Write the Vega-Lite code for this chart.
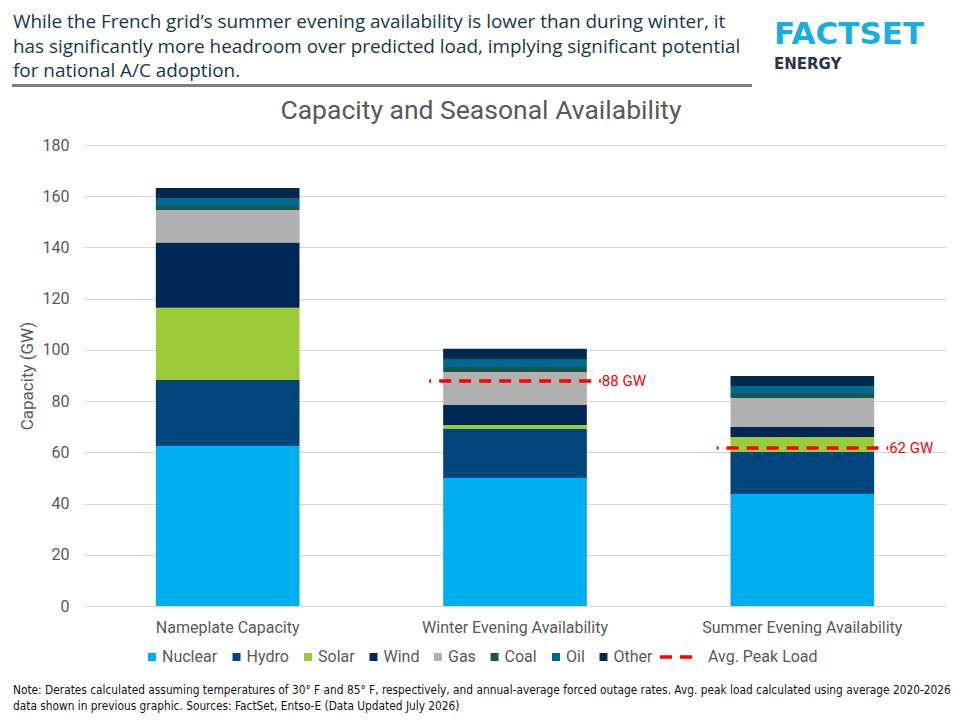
{
  "$schema": "https://vega.github.io/schema/vega-lite/v6.json",
  "background": "white",
  "padding": {"left": 12, "top": 12, "right": 0, "bottom": 0},
  "config": {"font": "Roboto", "view": {"stroke": null}},
  "datasets": {
    "capacity": [
      {"cat": "Nameplate Capacity", "source": "Nuclear", "gw": 62.5},
      {"cat": "Nameplate Capacity", "source": "Hydro", "gw": 25.7},
      {"cat": "Nameplate Capacity", "source": "Solar", "gw": 28.3},
      {"cat": "Nameplate Capacity", "source": "Wind", "gw": 25.4},
      {"cat": "Nameplate Capacity", "source": "Gas", "gw": 12.7},
      {"cat": "Nameplate Capacity", "source": "Coal", "gw": 1.6},
      {"cat": "Nameplate Capacity", "source": "Oil", "gw": 3.1},
      {"cat": "Nameplate Capacity", "source": "Other", "gw": 3.9},
      {"cat": "Winter Evening Availability", "source": "Nuclear", "gw": 50.0},
      {"cat": "Winter Evening Availability", "source": "Hydro", "gw": 19.1},
      {"cat": "Winter Evening Availability", "source": "Solar", "gw": 1.6},
      {"cat": "Winter Evening Availability", "source": "Wind", "gw": 7.8},
      {"cat": "Winter Evening Availability", "source": "Gas", "gw": 12.9},
      {"cat": "Winter Evening Availability", "source": "Coal", "gw": 1.9},
      {"cat": "Winter Evening Availability", "source": "Oil", "gw": 3.1},
      {"cat": "Winter Evening Availability", "source": "Other", "gw": 4.0},
      {"cat": "Summer Evening Availability", "source": "Nuclear", "gw": 43.7},
      {"cat": "Summer Evening Availability", "source": "Hydro", "gw": 16.4},
      {"cat": "Summer Evening Availability", "source": "Solar", "gw": 5.9},
      {"cat": "Summer Evening Availability", "source": "Wind", "gw": 3.9},
      {"cat": "Summer Evening Availability", "source": "Gas", "gw": 11.3},
      {"cat": "Summer Evening Availability", "source": "Coal", "gw": 2.0},
      {"cat": "Summer Evening Availability", "source": "Oil", "gw": 2.7},
      {"cat": "Summer Evening Availability", "source": "Other", "gw": 3.9}
    ],
    "load": [
      {"cat": "Winter Evening Availability", "gw": 87.9, "label": "88 GW"},
      {"cat": "Summer Evening Availability", "gw": 61.7, "label": "62 GW"}
    ]
  },
  "bounds": "flush",
  "spacing": 60,
  "vconcat": [
    {
      "bounds": "flush",
      "spacing": 23,
      "hconcat": [
        {
          "data": {"values": []},
          "mark": "point",
          "width": 738,
          "height": 1,
          "view": {"stroke": "#7f7f7f", "strokeWidth": 2, "fill": "#7f7f7f"},
          "title": {
            "text": [
              "While the French grid’s summer evening availability is lower than during winter, it",
              "has significantly more headroom over predicted load, implying significant potential",
              "for national A/C adoption."
            ],
            "anchor": "start",
            "frame": "group",
            "font": "Open Sans",
            "fontSize": 18.9,
            "fontWeight": "normal",
            "color": "#15394a",
            "lineHeight": 24.5,
            "offset": 4
          }
        },
        {
          "data": {"values": []},
          "mark": "point",
          "width": 150,
          "height": 1,
          "title": {
            "text": "FACTSET",
            "subtitle": "ENERGY",
            "anchor": "start",
            "frame": "group",
            "font": "DejaVu Sans",
            "fontWeight": "bold",
            "fontSize": 31,
            "color": "#1aade4",
            "subtitleFont": "DejaVu Sans",
            "subtitleFontWeight": "bold",
            "subtitleFontSize": 15,
            "subtitleColor": "#253746",
            "subtitlePadding": 6,
            "offset": 12
          }
        }
      ]
    },
    {
      "bounds": "flush",
      "spacing": 0,
      "hconcat": [
        {
          "data": {"values": []},
          "mark": "point",
          "width": 71,
          "height": 461,
          "title": {
            "text": [
              "Note: Derates calculated assuming temperatures of 30° F and 85° F, respectively, and annual-average forced outage rates. Avg. peak load calculated using average 2020-2026",
              "data shown in previous graphic. Sources: FactSet, Entso-E (Data Updated July 2026)"
            ],
            "orient": "bottom",
            "anchor": "start",
            "frame": "group",
            "limit": 2000,
            "font": "DejaVu Sans Condensed, Liberation Sans, sans-serif",
            "fontSize": 11.8,
            "fontWeight": "normal",
            "color": "#111111",
            "lineHeight": 16,
            "offset": 79
          }
        },
        {
          "width": 862,
          "height": 461,
          "title": {
            "text": "Capacity and Seasonal Availability",
            "anchor": "middle",
            "frame": "group",
            "dx": -34,
            "fontSize": 26.5,
            "font": "Roboto",
            "fontWeight": "normal",
            "color": "#595959",
            "offset": 13
          },
          "layer": [
            {
              "data": {"name": "capacity"},
              "transform": [{"window": [{"op": "row_number", "as": "row"}]}],
              "mark": {"type": "bar"},
              "encoding": {
                "x": {
                  "field": "cat",
                  "type": "nominal",
                  "sort": ["Nameplate Capacity", "Winter Evening Availability", "Summer Evening Availability"],
                  "scale": {"paddingInner": 0.5, "paddingOuter": 0.25},
                  "axis": {
                    "title": null,
                    "labelAngle": 0,
                    "labelFontSize": 16,
                    "labelColor": "#595959",
                    "labelLimit": 400,
                    "ticks": false,
                    "domain": false,
                    "labelPadding": 13
                  }
                },
                "y": {
                  "field": "gw",
                  "type": "quantitative",
                  "stack": "zero",
                  "scale": {"domain": [0, 180], "nice": false},
                  "axis": {
                    "title": "Capacity (GW)",
                    "tickCount": 9,
                    "grid": true,
                    "gridColor": "#d9d9d9",
                    "domain": false,
                    "ticks": false,
                    "labelPadding": 15,
                    "labelFontSize": 16,
                    "labelColor": "#595959",
                    "titleFontSize": 17,
                    "titleFontWeight": "normal",
                    "titleColor": "#595959",
                    "titlePadding": 6
                  }
                },
                "order": {"field": "row", "type": "quantitative"},
                "color": {
                  "field": "source",
                  "type": "nominal",
                  "sort": ["Nuclear", "Hydro", "Solar", "Wind", "Gas", "Coal", "Oil", "Other"],
                  "scale": {
                    "domain": ["Nuclear", "Hydro", "Solar", "Wind", "Gas", "Coal", "Oil", "Other"],
                    "range": ["#00aeef", "#00457b", "#9bcb38", "#002855", "#b0b0b0", "#17574f", "#006990", "#002a4a"]
                  },
                  "legend": {
                    "title": null,
                    "orient": "none",
                    "legendX": 131,
                    "legendY": 564,
                    "direction": "horizontal",
                    "columns": 8,
                    "symbolType": "square",
                    "symbolSize": 64,
                    "symbolStrokeWidth": 0,
                    "labelFontSize": 16,
                    "labelColor": "#595959",
                    "labelOffset": 2,
                    "columnPadding": 10.5,
                    "padding": 0
                  }
                }
              }
            },
            {
              "data": {"name": "load"},
              "mark": {
                "type": "rule",
                "color": "#ff0000",
                "strokeWidth": 3.5,
                "xOffset": -14,
                "x2Offset": 14,
                "strokeDashOffset": 10
              },
              "encoding": {
                "x": {
                  "field": "cat",
                  "type": "nominal",
                  "sort": ["Nameplate Capacity", "Winter Evening Availability", "Summer Evening Availability"],
                  "bandPosition": 0
                },
                "x2": {"field": "cat", "bandPosition": 1},
                "y": {"field": "gw", "type": "quantitative"},
                "strokeDash": {
                  "datum": "Avg. Peak Load",
                  "type": "nominal",
                  "scale": {"range": [[12, 8]]},
                  "legend": {
                    "title": null,
                    "orient": "none",
                    "legendX": 645,
                    "legendY": 553,
                    "symbolType": "stroke",
                    "symbolSize": 1156,
                    "symbolStrokeColor": "#ff0000",
                    "symbolStrokeWidth": 3.5,
                    "labelFontSize": 16,
                    "labelColor": "#595959",
                    "labelOffset": 12,
                    "padding": 0
                  }
                }
              }
            },
            {
              "data": {"name": "load"},
              "mark": {
                "type": "text",
                "align": "left",
                "baseline": "middle",
                "dx": 15,
                "fontSize": 15,
                "color": "#ff0000"
              },
              "encoding": {
                "x": {
                  "field": "cat",
                  "type": "nominal",
                  "sort": ["Nameplate Capacity", "Winter Evening Availability", "Summer Evening Availability"],
                  "bandPosition": 1
                },
                "y": {"field": "gw", "type": "quantitative"},
                "text": {"field": "label"}
              }
            }
          ]
        }
      ]
    }
  ]
}
